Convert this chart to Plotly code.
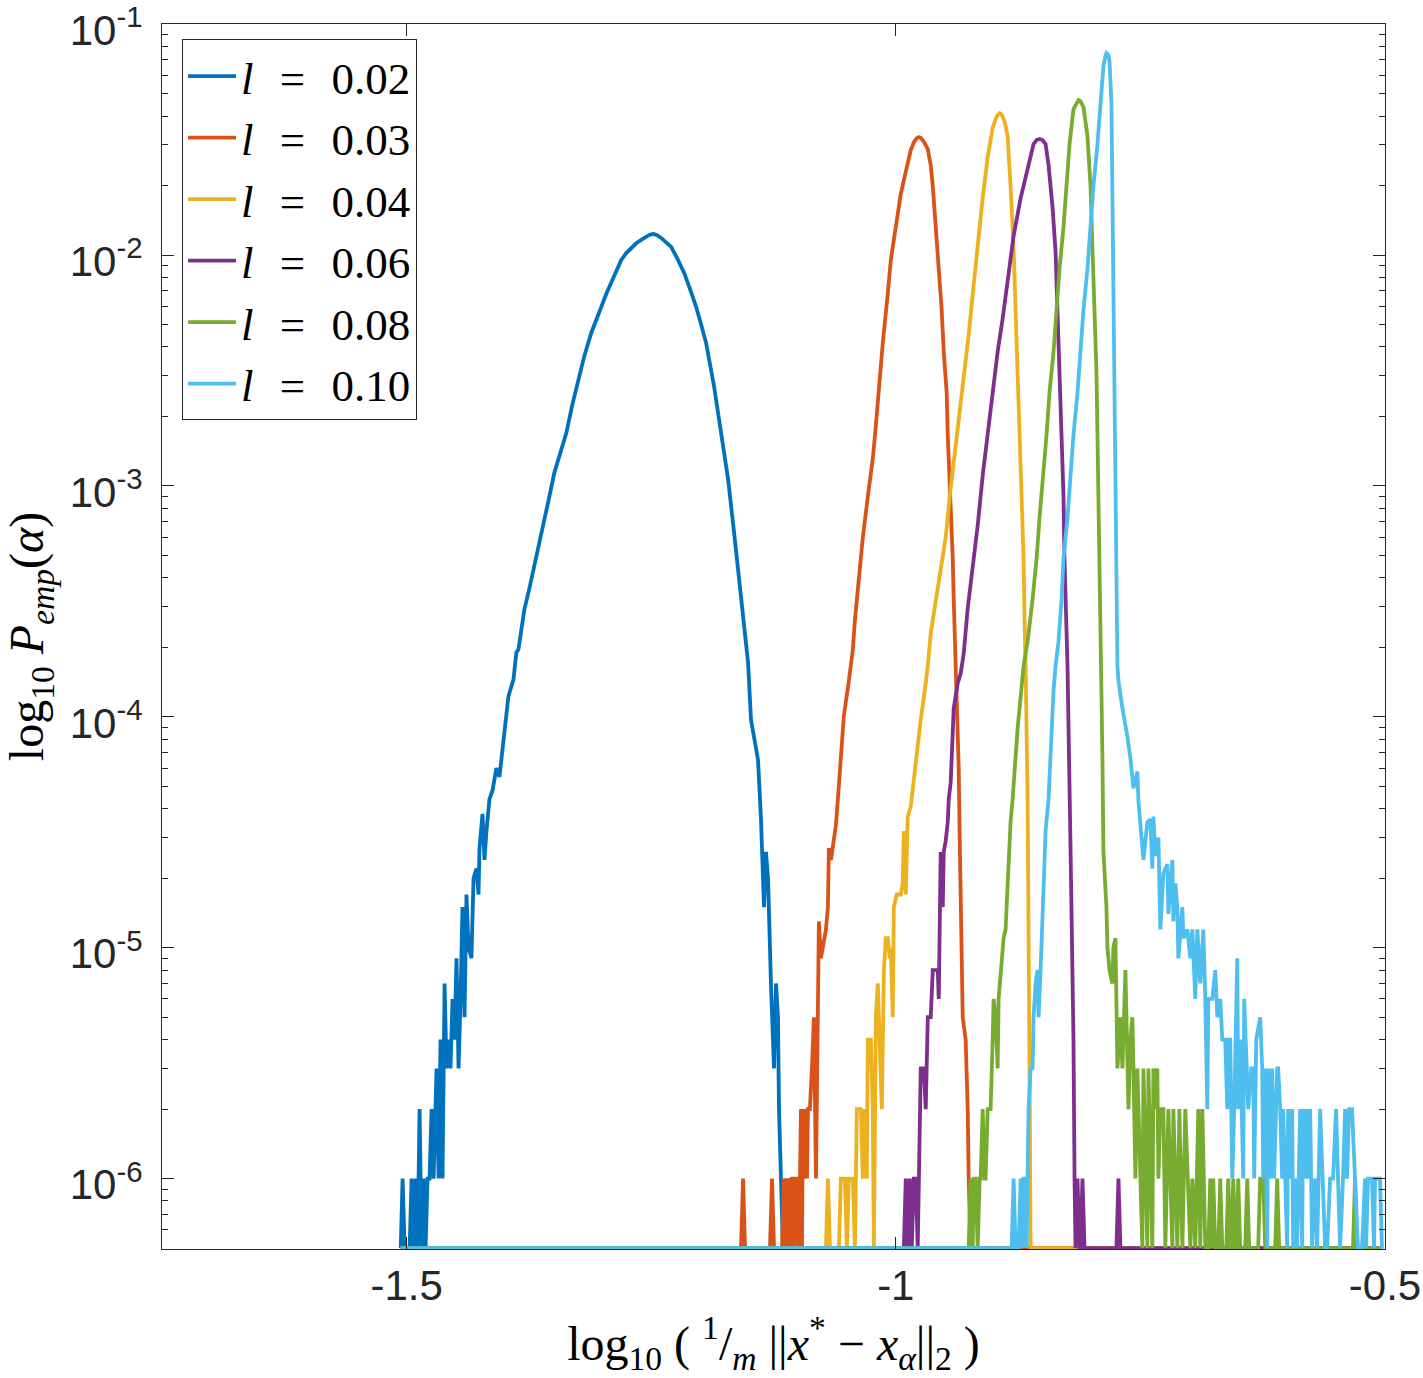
import plotly.graph_objects as go

N_SAMPLES = 1e6
FLOOR = 5.0e-7  # empty bins are drawn on the lower limit of the axis

# (log10 error, number of samples in bin) per series
L002 = [(-1.506, 0), (-1.5041, 1), (-1.502, 0), (-1.5, 0), (-1.4969, 0), (-1.4949, 1), (-1.4929, 0), (-1.4908, 1),
        (-1.4888, 0), (-1.4867, 2), (-1.4847, 0), (-1.4827, 1), (-1.4806, 0), (-1.4786, 1), (-1.4765, 1), (-1.4745, 2),
        (-1.4724, 1), (-1.4694, 3), (-1.4673, 1), (-1.4653, 4), (-1.4633, 1), (-1.4612, 7), (-1.4592, 3), (-1.4571, 4),
        (-1.4551, 3), (-1.4531, 6), (-1.451, 4), (-1.449, 9), (-1.4469, 3), (-1.4449, 6), (-1.4429, 15), (-1.4408, 5),
        (-1.4388, 17), (-1.4367, 10), (-1.4337, 9), (-1.4316, 20), (-1.4286, 22), (-1.4265, 17), (-1.4255, 27),
        (-1.4224, 38), (-1.4204, 24), (-1.4184, 32), (-1.4153, 44), (-1.4122, 48), (-1.4082, 60), (-1.4051, 55),
        (-1.4, 89), (-1.3959, 123), (-1.3908, 145), (-1.3878, 190), (-1.3857, 196), (-1.3796, 292), (-1.3745, 360),
        (-1.3694, 448), (-1.3643, 570), (-1.3592, 716), (-1.3541, 900), (-1.349, 1140), (-1.3429, 1400),
        (-1.3367, 1700), (-1.3306, 2250), (-1.3245, 2880), (-1.3184, 3650), (-1.3112, 4610), (-1.3061, 5300),
        (-1.301, 5970), (-1.2959, 6800), (-1.2908, 7580), (-1.2857, 8600), (-1.2806, 9530), (-1.2755, 10200),
        (-1.2704, 10740), (-1.2653, 11250), (-1.2602, 11640), (-1.2561, 11950), (-1.252, 12220), (-1.248, 12360),
        (-1.2439, 12200), (-1.2398, 11870), (-1.2347, 11400), (-1.2296, 10850), (-1.2235, 9700), (-1.2163, 8370),
        (-1.2102, 7100), (-1.2041, 5970), (-1.199, 5000), (-1.1939, 4170), (-1.1898, 3350), (-1.1857, 2690),
        (-1.1786, 1700), (-1.1714, 1070), (-1.1653, 629), (-1.1582, 333), (-1.151, 172),
        (-1.148, 97), (-1.1408, 65), (-1.1378, 36), (-1.1347, 15), (-1.1327, 26), (-1.1306, 20), (-1.1276, 7),
        (-1.1245, 3), (-1.1224, 7), (-1.1204, 5), (-1.1194, 2), (-1.1173, 1), (-1.1153, 0), (-1.1122, 1),
        (-1.1102, 0), (-1.1082, 1), (-1.1061, 0), (-0.502, 0)]

L003 = [(-1.506, 0), (-1.1582, 0), (-1.1561, 1), (-1.1541, 0), (-1.1286, 0), (-1.1265, 1), (-1.1245, 0),
        (-1.1163, 0), (-1.1143, 1), (-1.1133, 0), (-1.1112, 1), (-1.1102, 0), (-1.1092, 1), (-1.1071, 0),
        (-1.1061, 1), (-1.1051, 1), (-1.1031, 0), (-1.102, 1), (-1.1, 1), (-1.099, 0), (-1.0969, 2), (-1.0959, 0),
        (-1.0949, 2), (-1.0939, 1), (-1.0918, 2), (-1.0908, 1), (-1.0898, 2), (-1.0878, 2), (-1.0857, 3),
        (-1.0837, 5), (-1.0816, 1), (-1.0796, 10), (-1.0786, 13), (-1.0765, 9), (-1.0745, 10), (-1.0714, 12),
        (-1.0694, 15), (-1.0684, 27), (-1.0663, 24), (-1.0643, 27), (-1.0612, 34), (-1.0592, 44), (-1.0561, 68),
        (-1.0531, 101), (-1.048, 143), (-1.0439, 196), (-1.0418, 262), (-1.0378, 394), (-1.0337, 598),
        (-1.0286, 900), (-1.0235, 1314), (-1.0204, 1825), (-1.0173, 2745), (-1.0133, 4170), (-1.0082, 6800),
        (-1.0051, 9530), (-1.0, 13240), (-0.9949, 18400), (-0.9908, 22000), (-0.9878, 25560), (-0.9847, 28500),
        (-0.9816, 30800), (-0.9786, 32100), (-0.9765, 32460), (-0.9745, 32200), (-0.9714, 31000),
        (-0.9694, 30000), (-0.9673, 28800), (-0.9643, 24500), (-0.9622, 19920), (-0.9592, 13240), (-0.9561, 8710),
        (-0.9531, 5790), (-0.951, 3812), (-0.948, 2535), (-0.9469, 1668), (-0.9449, 1109), (-0.9429, 730),
        (-0.9418, 485), (-0.9408, 323), (-0.9388, 166), (-0.9357, 60), (-0.9347, 30), (-0.9337, 16), (-0.9316, 5),
        (-0.9286, 4), (-0.9265, 2), (-0.9255, 1), (-0.9235, 0), (-0.502, 0)]

L004 = [(-1.506, 0), (-1.0714, 0), (-1.0694, 1), (-1.0673, 0), (-1.0582, 0), (-1.0561, 1), (-1.0541, 1),
        (-1.052, 1), (-1.05, 0), (-1.048, 1), (-1.0459, 1), (-1.0439, 1), (-1.0418, 0), (-1.0398, 2), (-1.0378, 2),
        (-1.0357, 2), (-1.0337, 1), (-1.0327, 2), (-1.0296, 1), (-1.0286, 4), (-1.0255, 4), (-1.0235, 2),
        (-1.0224, 0), (-1.0204, 5), (-1.0184, 7), (-1.0163, 4), (-1.0143, 2), (-1.0122, 8), (-1.0102, 11),
        (-1.0082, 11), (-1.0061, 9), (-1.0051, 10), (-1.0031, 5), (-1.002, 15), (-0.999, 17), (-0.9969, 17),
        (-0.9949, 17), (-0.9929, 19), (-0.9918, 32), (-0.9898, 17), (-0.9878, 37), (-0.9847, 41), (-0.9816, 54),
        (-0.9776, 76), (-0.9745, 97), (-0.9694, 140), (-0.9673, 166), (-0.9643, 230), (-0.9592, 323),
        (-0.9541, 448), (-0.949, 598), (-0.9449, 900), (-0.9398, 1367), (-0.9357, 1977), (-0.9306, 2857),
        (-0.9255, 4518), (-0.9204, 7430), (-0.9163, 11180), (-0.9112, 17670), (-0.9061, 26590), (-0.901, 35490),
        (-0.898, 38800), (-0.8959, 40500), (-0.8939, 41210), (-0.8918, 40600), (-0.8888, 38000), (-0.8857, 32780),
        (-0.8827, 19920), (-0.8796, 10740), (-0.8776, 5790),
        (-0.8755, 3125), (-0.8735, 1668), (-0.8714, 900), (-0.8694, 485), (-0.8684, 262), (-0.8673, 166),
        (-0.8653, 44), (-0.8643, 16), (-0.8633, 3), (-0.8622, 0), (-0.502, 0)]

L006 = [(-1.506, 0), (-0.9918, 0), (-0.9898, 1), (-0.9878, 0), (-0.9857, 1), (-0.9837, 0), (-0.9816, 1),
        (-0.9796, 1), (-0.9776, 0), (-0.9765, 1), (-0.9745, 3), (-0.9724, 3), (-0.9714, 3), (-0.9694, 2),
        (-0.9673, 5), (-0.9653, 5), (-0.9643, 5), (-0.9622, 8), (-0.9592, 8), (-0.9571, 8), (-0.9561, 6),
        (-0.9541, 26), (-0.952, 15), (-0.951, 26), (-0.949, 29), (-0.9469, 35), (-0.9459, 44), (-0.9439, 52),
        (-0.9408, 109), (-0.9367, 140), (-0.9337, 154), (-0.9306, 188), (-0.9265, 295), (-0.9214, 448),
        (-0.9163, 674), (-0.9112, 1109), (-0.9061, 1668), (-0.901, 2535), (-0.8959, 3812), (-0.8908, 5300),
        (-0.8857, 7730), (-0.8796, 12100), (-0.8724, 17670), (-0.8653, 23600), (-0.8622, 27300), (-0.8592, 30270),
        (-0.8561, 31500), (-0.8531, 31820), (-0.85, 31500), (-0.8469, 30270), (-0.8439, 24550), (-0.8398, 16160),
        (-0.8367, 10320), (-0.8347, 5790), (-0.8327, 3125),
        (-0.8306, 1668), (-0.8286, 900), (-0.8276, 485), (-0.8255, 262), (-0.8245, 166), (-0.8214, 27),
        (-0.8184, 4), (-0.8173, 1), (-0.8163, 0), (-0.8143, 1), (-0.8122, 0), (-0.8112, 0), (-0.8092, 1),
        (-0.8071, 0), (-0.7745, 0), (-0.7724, 1), (-0.7704, 0), (-0.502, 0)]

L008 = [(-1.506, 0), (-0.9255, 0), (-0.9235, 1), (-0.9214, 0), (-0.9204, 1), (-0.9184, 1), (-0.9163, 0),
        (-0.9143, 1), (-0.9133, 1), (-0.9112, 2), (-0.9092, 1), (-0.9082, 1), (-0.9061, 2), (-0.9031, 2),
        (-0.901, 4), (-0.9, 6), (-0.898, 5), (-0.8959, 3), (-0.8949, 6), (-0.8929, 8), (-0.8898, 11), (-0.8878, 12),
        (-0.8857, 20), (-0.8847, 25), (-0.8827, 35), (-0.8806, 44), (-0.8755, 89), (-0.8694, 166), (-0.8653, 212),
        (-0.8602, 323), (-0.8561, 485), (-0.8531, 730), (-0.849, 1109), (-0.8459, 1668), (-0.8429, 2535),
        (-0.8388, 3812), (-0.8357, 5790), (-0.8327, 8710), (-0.8286, 13240), (-0.8255, 19920), (-0.8224, 30270),
        (-0.8184, 42890), (-0.8153, 45900), (-0.8133, 46920), (-0.8112, 46300), (-0.8082, 43750), (-0.8041, 32780),
        (-0.801, 19920), (-0.799, 10740),
        (-0.7969, 5790), (-0.7949, 3125), (-0.7939, 1668), (-0.7929, 900), (-0.7918, 485), (-0.7908, 262),
        (-0.7898, 166), (-0.7888, 66), (-0.7878, 26), (-0.7847, 15), (-0.7837, 10), (-0.7816, 8), (-0.7786, 7),
        (-0.7776, 10), (-0.7755, 11), (-0.7735, 3), (-0.7704, 5), (-0.7684, 3), (-0.7653, 8), (-0.7633, 3),
        (-0.7622, 2), (-0.7602, 4), (-0.7582, 5), (-0.7571, 3), (-0.7551, 1), (-0.7531, 3), (-0.75, 1),
        (-0.748, 0), (-0.7469, 3), (-0.7449, 1), (-0.7429, 0), (-0.7418, 3), (-0.7398, 1), (-0.7378, 0),
        (-0.7367, 3), (-0.7347, 2), (-0.7327, 3), (-0.7316, 1), (-0.7296, 2), (-0.7265, 2), (-0.7245, 0),
        (-0.7214, 2), (-0.7194, 1), (-0.7173, 0), (-0.7163, 2), (-0.7143, 1), (-0.7122, 0), (-0.7102, 2),
        (-0.7082, 1), (-0.7071, 0), (-0.7041, 2), (-0.702, 1), (-0.699, 0), (-0.6969, 1), (-0.6939, 0),
        (-0.6908, 2), (-0.6888, 0), (-0.6867, 2), (-0.6837, 0), (-0.6806, 0), (-0.6786, 1), (-0.6765, 0),
        (-0.6755, 1), (-0.6735, 0), (-0.6704, 0), (-0.6684, 1), (-0.6663, 0), (-0.6622, 0), (-0.6602, 1),
        (-0.6582, 0), (-0.6571, 0), (-0.6551, 1), (-0.6531, 0), (-0.652, 0), (-0.65, 1), (-0.648, 0),
        (-0.6429, 0), (-0.6408, 1), (-0.6388, 0), (-0.6296, 0), (-0.6276, 1), (-0.6245, 1), (-0.6224, 0),
        (-0.6122, 0), (-0.6102, 1), (-0.6082, 0), (-0.5327, 0), (-0.5306, 1), (-0.5286, 0), (-0.502, 0)]

L010 = [(-1.506, 0), (-0.8816, 0), (-0.8796, 1), (-0.8776, 0), (-0.8745, 0), (-0.8724, 1), (-0.8704, 0),
        (-0.8694, 1), (-0.8673, 1), (-0.8663, 0), (-0.8653, 1), (-0.8643, 2), (-0.8622, 3), (-0.8602, 3),
        (-0.8592, 5), (-0.8571, 7), (-0.8551, 8), (-0.8541, 5), (-0.852, 8), (-0.85, 15), (-0.849, 18),
        (-0.8469, 32), (-0.8439, 44), (-0.8418, 76), (-0.8388, 130), (-0.8367, 166), (-0.8337, 212),
        (-0.8306, 323), (-0.8286, 485), (-0.8245, 730), (-0.8214, 1109), (-0.8184, 1668), (-0.8143, 2535),
        (-0.8112, 3812), (-0.8082, 5790), (-0.8041, 8710), (-0.801, 13240), (-0.798, 19920), (-0.7939, 30270),
        (-0.7908, 45540), (-0.7878, 65800), (-0.7857, 73000), (-0.7847, 74920), (-0.7827, 73500), (-0.7816, 69180),
        (-0.7796, 45540), (-0.7786, 19920),
        (-0.7776, 6000), (-0.7765, 1668), (-0.7755, 730), (-0.7745, 323), (-0.7735, 166), (-0.7724, 143),
        (-0.7704, 120), (-0.7684, 109), (-0.7633, 82), (-0.7602, 66), (-0.7571, 49), (-0.7531, 58), (-0.752, 43),
        (-0.75, 35), (-0.7469, 24), (-0.7429, 35), (-0.7398, 36), (-0.7378, 22), (-0.7367, 37), (-0.7347, 25),
        (-0.7316, 30), (-0.7296, 12), (-0.7265, 21), (-0.7224, 23), (-0.7214, 14), (-0.7173, 24), (-0.7163, 13),
        (-0.7143, 19), (-0.7122, 15), (-0.7112, 9), (-0.7071, 15), (-0.7061, 11), (-0.702, 12), (-0.699, 9),
        (-0.6969, 12), (-0.6939, 6), (-0.6918, 12), (-0.6888, 7), (-0.6857, 12), (-0.6837, 6), (-0.6816, 2),
        (-0.6806, 6), (-0.6765, 6), (-0.6735, 8), (-0.6714, 5), (-0.6684, 6), (-0.6663, 4), (-0.6633, 4),
        (-0.6612, 2), (-0.6602, 4), (-0.6582, 4), (-0.6561, 1), (-0.6541, 2), (-0.651, 9), (-0.65, 2), (-0.648, 4),
        (-0.6449, 1), (-0.6439, 6), (-0.6418, 3), (-0.6398, 2), (-0.6367, 3), (-0.6347, 3), (-0.6337, 1),
        (-0.6316, 4), (-0.6276, 5), (-0.6255, 3), (-0.6245, 1), (-0.6224, 3), (-0.6204, 0), (-0.6194, 3),
        (-0.6173, 1), (-0.6153, 3), (-0.6133, 1), (-0.6102, 3), (-0.6092, 3), (-0.6071, 2), (-0.6051, 1),
        (-0.6041, 2), (-0.602, 1), (-0.6, 0), (-0.599, 2), (-0.5969, 1), (-0.5949, 2), (-0.5939, 0), (-0.5918, 1),
        (-0.5898, 0), (-0.5867, 2), (-0.5847, 0), (-0.5837, 2), (-0.5816, 1), (-0.5796, 2), (-0.5786, 1),
        (-0.5765, 2), (-0.5745, 0), (-0.5714, 1), (-0.5694, 0), (-0.5663, 2), (-0.5633, 1), (-0.5612, 0),
        (-0.5592, 0), (-0.5561, 1), (-0.5531, 1), (-0.55, 2), (-0.548, 1), (-0.5459, 0), (-0.5429, 1),
        (-0.5408, 2), (-0.5388, 1), (-0.5367, 2), (-0.5337, 2), (-0.5306, 1), (-0.5276, 0), (-0.5235, 0),
        (-0.5204, 1), (-0.5194, 0), (-0.5173, 1), (-0.5153, 1), (-0.5133, 1), (-0.5112, 0), (-0.5102, 1),
        (-0.5082, 1), (-0.5071, 1), (-0.5051, 1), (-0.5031, 0), (-0.502, 0)]

SERIES_NAMES = ["0.02", "0.03", "0.04", "0.06", "0.08", "0.10"]
SERIES_DATA = [L002, L003, L004, L006, L008, L010]
COLORS = ["#0072BD", "#D95319", "#EDB120", "#7E2F8E", "#77AC30", "#4DBEEE"]

Y_TICKS = [1e-6, 1e-5, 1e-4, 1e-3, 1e-2, 1e-1]
Y_TICKTEXT = ["10<sup>-6</sup>", "10<sup>-5</sup>", "10<sup>-4</sup>", "10<sup>-3</sup>", "10<sup>-2</sup>", "10<sup>-1</sup>"]
X_TICKS = [-1.5, -1.0, -0.5]
X_TICKTEXT = ["-1.5", "-1", "-0.5"]

AX = "#262626"
SANS = "Liberation Sans, Arial, Helvetica, sans-serif"
SERIF = "Liberation Serif, Times New Roman, serif"
EQ = "\u2002\u200a=\u2002\u200a"

fig = go.Figure()
for name, data, color in zip(SERIES_NAMES, SERIES_DATA, COLORS):
    xs = [d[0] for d in data]
    ys = [d[1] / N_SAMPLES if d[1] > 0 else FLOOR for d in data]
    fig.add_trace(go.Scatter(
        x=xs, y=ys, mode="lines", name="<i>l</i>" + EQ + name,
        line=dict(color=color, width=3.8), hoverinfo="skip"))

minor_vals = [k * 10.0 ** e for e in range(-7, -1) for k in range(2, 10)]
minor_vals = [v for v in minor_vals if 5e-7 < v < 1e-1]

fig.update_layout(
    width=1423, height=1378,
    margin=dict(l=162, r=38, t=24, b=129),
    paper_bgcolor="white", plot_bgcolor="white",
    showlegend=True,
    legend=dict(
        x=0.0164, y=0.9875, xanchor="left", yanchor="top",
        bgcolor="white", bordercolor=AX, borderwidth=1,
        font=dict(family=SERIF, size=45, color="black"),
        itemwidth=48, tracegroupgap=0,
    ),
    xaxis=dict(
        type="linear", range=[-1.75, -0.5], automargin=False,
        showgrid=False, zeroline=False,
        showline=True, linecolor=AX, linewidth=1, mirror="allticks",
        ticks="inside", ticklen=12, tickwidth=1, tickcolor=AX,
        tickmode="array", tickvals=X_TICKS, ticktext=X_TICKTEXT,
        tickfont=dict(family=SANS, size=42, color=AX), ticklabeloverflow="allow",
        title=dict(
            text="log<sub>10</sub> ( <sup>1</sup>/<sub><i>m</i></sub> ||<i>x</i><sup>*</sup> \u2212 <i>x<sub>α</sub></i>||<sub>2</sub> )",
            font=dict(family=SERIF, size=48, color="black"), standoff=14),
    ),
    yaxis=dict(
        type="log", range=[-6.305, -0.999], automargin=False,
        showgrid=False, zeroline=False,
        showline=True, linecolor=AX, linewidth=1, mirror="allticks",
        ticks="inside", ticklen=12, tickwidth=1, tickcolor=AX,
        tickmode="array", tickvals=Y_TICKS, ticktext=Y_TICKTEXT,
        tickfont=dict(family=SANS, size=42, color=AX), ticklabelstandoff=10,
        ticklabelshift=6, ticklabeloverflow="allow",
        minor=dict(tickmode="array", tickvals=minor_vals, ticks="inside", ticklen=6,
                   tickwidth=1, tickcolor=AX, showgrid=False),
        title=dict(
            text="log<sub>10</sub> <i>P<sub>emp</sub></i>(<i>α</i>)",
            font=dict(family=SERIF, size=48, color="black"), standoff=10),
    ),
)

fig.write_html("out.html")
